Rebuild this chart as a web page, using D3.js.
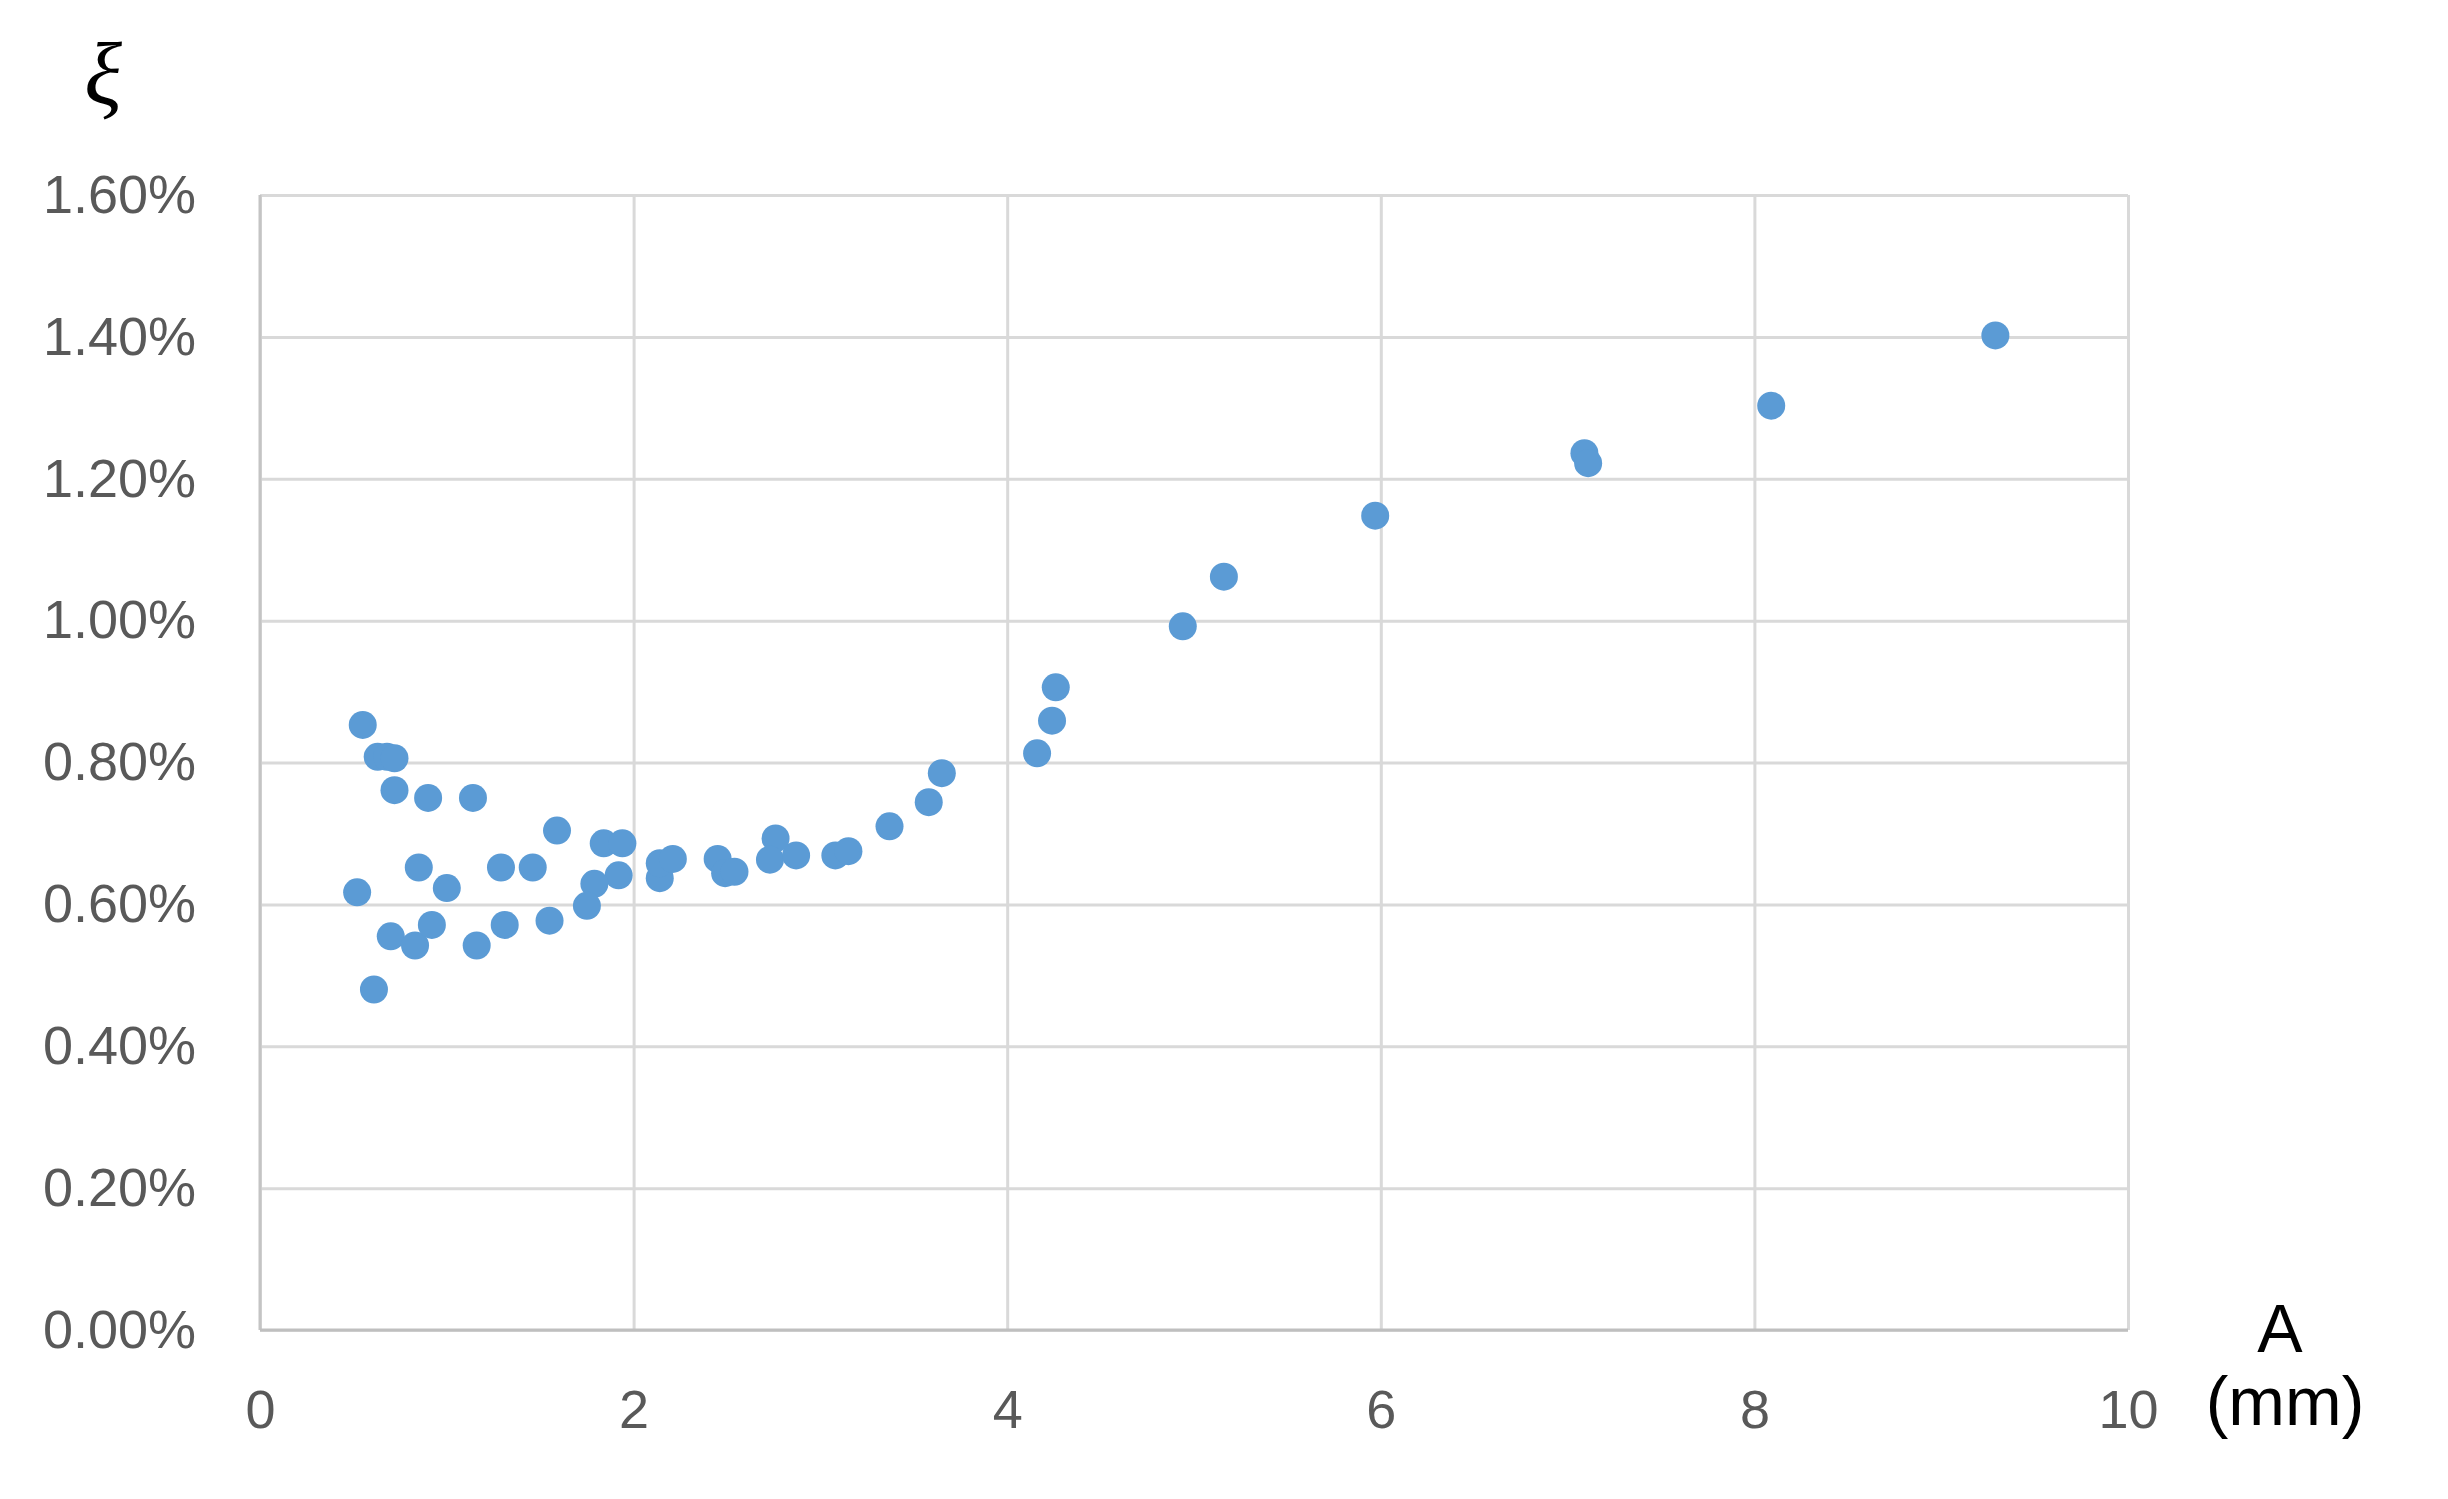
<!DOCTYPE html>
<html>
<head>
<meta charset="utf-8">
<title>Damping ratio vs amplitude</title>
<script src="https://cdn.jsdelivr.net/npm/d3@7"></script>
<style>
  html, body { margin: 0; padding: 0; background: #fff; }
  svg { display: block; }
</style>
</head>
<body>
<svg id="chart" width="2448" height="1499"></svg>
<script>
// amplitude A (mm)
const amplitude = [
  0.55, 0.63, 0.68, 0.72, 0.72, 0.90, 1.14, 1.59, 1.84, 1.94,
  0.85, 1.29, 1.46, 0.52, 1.00, 1.92, 1.79, 1.75, 0.70, 0.83,
  0.92, 1.16, 1.31, 1.55, 0.61, 2.14, 2.14, 2.21, 2.45, 2.49,
  2.54, 2.76, 2.73, 2.87, 3.08, 3.15, 3.37, 3.58, 3.65, 4.16,
  4.24, 4.26, 4.94, 5.16, 5.97, 7.09, 7.11, 8.09, 9.29
];
// damping ratio xi (%), same order
const damping = [
  0.853, 0.808, 0.808, 0.806, 0.761, 0.750, 0.750, 0.704, 0.686, 0.686,
  0.652, 0.652, 0.652, 0.617, 0.623, 0.641, 0.629, 0.598, 0.555, 0.542,
  0.571, 0.542, 0.571, 0.577, 0.480, 0.637, 0.658, 0.664, 0.664, 0.644,
  0.646, 0.693, 0.663, 0.669, 0.669, 0.675, 0.710, 0.744, 0.785, 0.813,
  0.859, 0.906, 0.992, 1.062, 1.148, 1.236, 1.222, 1.303, 1.402
];
const xTicks = [0, 2, 4, 6, 8, 10];
const yTicks = [0, 0.2, 0.4, 0.6, 0.8, 1.0, 1.2, 1.4, 1.6];

(function scatter(){
  const svg = d3.select('#chart');
  const margin = { top: 195, right: 320, bottom: 169, left: 260 };
  const w = +svg.attr('width') - margin.left - margin.right;
  const h = +svg.attr('height') - margin.top - margin.bottom;

  const x = d3.scaleLinear().domain([0, 10]).range([0, w]);
  const y = d3.scaleLinear().domain([0, 1.6]).range([h, 0]);

  const g = svg.append('g').attr('transform', `translate(${margin.left},${margin.top})`);

  // horizontal gridlines + y labels
  const yAxis = g.append('g')
    .call(d3.axisLeft(y).tickValues(yTicks).tickSize(-w).tickPadding(64)
      .tickFormat(d => d.toFixed(2) + '%'));
  // vertical gridlines + x labels
  const xAxis = g.append('g')
    .attr('transform', `translate(0,${h})`)
    .call(d3.axisBottom(x).tickValues(xTicks).tickSize(-h).tickPadding(60));

  [xAxis, yAxis].forEach(a => {
    a.select('.domain').remove();
    a.selectAll('line').attr('stroke', '#d9d9d9').attr('stroke-width', 3);
    a.selectAll('text')
      .attr('fill', '#595959')
      .style('font-family', '"Liberation Sans", Arial, sans-serif')
      .style('font-size', '54px');
  });

  // axis lines (left and bottom a bit darker)
  g.append('line').attr('x1', 0).attr('x2', 0).attr('y1', 0).attr('y2', h)
    .attr('stroke', '#c4c4c4').attr('stroke-width', 3);
  g.append('line').attr('x1', 0).attr('x2', w).attr('y1', h).attr('y2', h)
    .attr('stroke', '#bfbfbf').attr('stroke-width', 3);

  // points
  const pts = amplitude.map((a, i) => ({ a, xi: damping[i] }));
  g.selectAll('circle.pt')
    .data(pts)
    .join('circle')
      .attr('class', 'pt')
      .attr('cx', d => x(d.a))
      .attr('cy', d => y(d.xi))
      .attr('r', 14)
      .attr('fill', '#5b9bd5');

  // axis titles
  svg.append('text')
    .attr('x', 103).attr('y', 104)
    .attr('text-anchor', 'middle')
    .style('font-family', '"Liberation Serif", "DejaVu Serif", serif')
    .style('font-style', 'italic')
    .style('font-size', '88px')
    .attr('fill', '#000')
    .text('ξ');

  const xt = svg.append('text')
    .attr('text-anchor', 'middle')
    .style('font-family', '"Liberation Sans", Arial, sans-serif')
    .style('font-size', '68px')
    .attr('fill', '#000');
  xt.append('tspan').attr('x', 2280).attr('y', 1352).text('A');
  xt.append('tspan').attr('x', 2285).attr('y', 1425).text('(mm)');
})();
</script>
</body>
</html>
